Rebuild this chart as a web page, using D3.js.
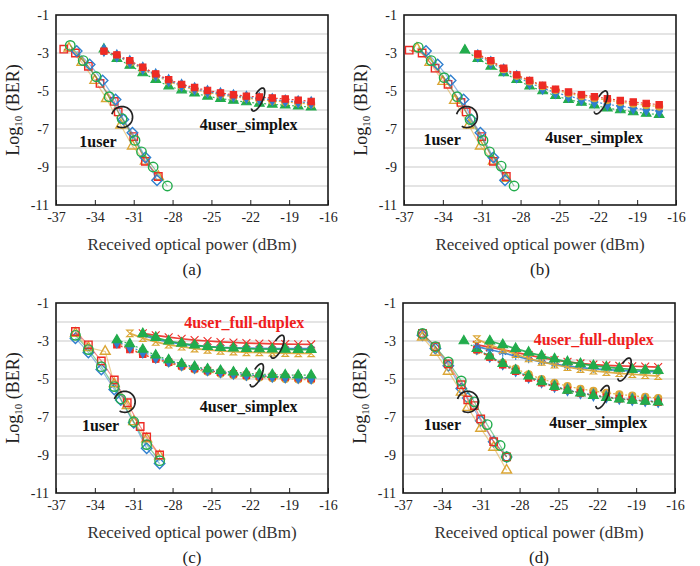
<!DOCTYPE html>
<html>
<head>
<meta charset="utf-8">
<script src="https://cdn.jsdelivr.net/npm/d3@7"></script>
<style>
  body { margin: 0; background: #fff; }
  svg text { font-family: "Liberation Serif", "Times New Roman", serif; }
</style>
</head>
<body>
<div id="chart"></div>
<script>
// ---- axes ----
var xTicks = [-37, -34, -31, -28, -25, -22, -19, -16];
var yTicks = [-11, -9, -7, -5, -3, -1];
var panelNames = ["(a)", "(b)", "(c)", "(d)"];

// ---- panel (a) ----
var a1RedX = [-36.4, -35.5, -34.5, -33.6, -32.5, -32.2, -31.0, -30.1, -29.1];
var a1RedY = [-2.8, -3.0, -3.7, -4.6, -5.55, -6.1, -7.4, -8.7, -9.5];
var a1BlueX = [-35.4, -34.4, -33.4, -32.4, -31.8, -31.1, -30.1, -29.2];
var a1BlueY = [-2.9, -3.6, -4.45, -5.45, -6.5, -7.2, -8.5, -9.7];
var a1OrangeX = [-36.0, -35.0, -34.0, -33.1, -32.0, -31.1, -30.1, -29.1];
var a1OrangeY = [-2.75, -3.5, -4.45, -5.4, -6.8, -7.9, -8.7, -9.5];
var a1GreenX = [-35.9, -34.9, -33.9, -32.9, -31.9, -30.9, -30.4, -29.5, -28.4];
var a1GreenY = [-2.6, -3.4, -4.25, -5.3, -6.45, -7.6, -8.2, -9.0, -10.0];

var aSimX = [-33.3, -32.3, -31.3, -30.3, -29.3, -28.3, -27.3, -26.3, -25.3, -24.3, -23.3, -22.3, -21.3, -20.3, -19.3, -18.3, -17.3];
var aSimRed = [-2.9, -3.1, -3.4, -3.75, -4.1, -4.4, -4.65, -4.82, -4.97, -5.1, -5.2, -5.27, -5.32, -5.37, -5.42, -5.48, -5.55];
var aSimBlue = [-2.85, -3.15, -3.45, -3.8, -4.15, -4.45, -4.7, -4.88, -5.03, -5.15, -5.25, -5.33, -5.4, -5.45, -5.52, -5.57, -5.62];
var aSimOrange = [-2.9, -3.15, -3.5, -3.85, -4.2, -4.5, -4.75, -4.93, -5.08, -5.2, -5.3, -5.38, -5.45, -5.52, -5.58, -5.63, -5.7];
var aSimGreen = [-2.8, -3.3, -3.65, -4.05, -4.4, -4.75, -4.95, -5.12, -5.28, -5.4, -5.5, -5.58, -5.65, -5.7, -5.75, -5.8, -5.85];

// ---- panel (b) ----
var b1RedX = [-36.6, -35.6, -34.6, -33.6, -32.6, -32.2, -31.0, -30.1, -29.1];
var b1RedY = [-2.85, -3.0, -3.8, -4.65, -5.6, -6.1, -7.4, -8.7, -9.5];
var b1BlueX = [-35.3, -34.4, -33.4, -32.4, -31.8, -31.1, -30.1, -29.2];
var b1BlueY = [-2.9, -3.6, -4.45, -5.45, -6.5, -7.2, -8.5, -9.7];
var b1OrangeX = [-36.0, -35.0, -34.0, -33.1, -32.0, -31.1, -30.1, -29.1];
var b1OrangeY = [-2.75, -3.5, -4.5, -5.5, -6.8, -7.9, -8.7, -9.6];
var b1GreenX = [-35.9, -34.9, -33.9, -32.9, -31.9, -30.9, -30.4, -29.5, -28.5];
var b1GreenY = [-2.7, -3.4, -4.3, -5.3, -6.5, -7.6, -8.2, -8.95, -10.0];

var bSimX = [-31.3, -30.3, -29.3, -28.3, -27.3, -26.3, -25.3, -24.3, -23.3, -22.3, -21.3, -20.3, -19.3, -18.3, -17.3];
var bSimGreenX = [-32.3, -31.3, -30.3, -29.3, -28.3, -27.3, -26.3, -25.3, -24.3, -23.3, -22.3, -21.3, -20.3, -19.3, -18.3, -17.3];
var bSimRed = [-3.05, -3.4, -3.8, -4.15, -4.45, -4.7, -4.9, -5.05, -5.2, -5.3, -5.4, -5.5, -5.58, -5.65, -5.72];
var bSimOrange = [-3.1, -3.45, -3.85, -4.2, -4.5, -4.75, -4.95, -5.12, -5.27, -5.38, -5.48, -5.58, -5.67, -5.75, -5.82];
var bSimBlue = [-3.15, -3.5, -3.9, -4.25, -4.58, -4.85, -5.08, -5.27, -5.43, -5.57, -5.7, -5.8, -5.9, -5.98, -6.05];
var bSimGreen = [-2.85, -3.3, -3.7, -4.05, -4.4, -4.75, -5.0, -5.25, -5.45, -5.6, -5.75, -5.9, -6.0, -6.1, -6.18, -6.25];

// ---- panel (c) ----
var c1RedX = [-35.5, -34.5, -33.5, -32.5, -31.5, -30.5, -30.0, -29.0];
var c1RedY = [-2.5, -3.2, -4.05, -5.05, -6.25, -7.5, -8.05, -9.0];
var c1BlueX = [-35.5, -34.5, -33.5, -32.5, -32.0, -31.0, -30.0, -29.0];
var c1BlueY = [-2.85, -3.6, -4.5, -5.55, -6.1, -7.3, -8.65, -9.45];
var c1OrangeX = [-35.5, -34.5, -33.2, -32.5, -31.5, -31.0, -30.0, -29.0];
var c1OrangeY = [-2.6, -3.35, -3.55, -5.25, -6.4, -7.25, -8.15, -9.05];
var c1GreenX = [-35.5, -34.5, -33.5, -32.5, -32.0, -31.0, -30.0, -29.0];
var c1GreenY = [-2.7, -3.45, -4.35, -5.4, -6.05, -7.25, -8.45, -9.3];

var cSimX = [-32.3, -31.3, -30.3, -29.3, -28.3, -27.3, -26.3, -25.3, -24.3, -23.3, -22.3, -21.3, -20.3, -19.3, -18.3, -17.3];
var cSimRed = [-3.2, -3.45, -3.7, -3.95, -4.12, -4.3, -4.45, -4.55, -4.65, -4.72, -4.8, -4.84, -4.87, -4.9, -4.93, -4.97];
var cSimBlue = [-3.05, -3.3, -3.58, -3.85, -4.05, -4.25, -4.4, -4.52, -4.62, -4.7, -4.77, -4.82, -4.86, -4.9, -4.92, -4.95];
var cSimOrange = [-3.1, -3.4, -3.68, -3.95, -4.15, -4.35, -4.5, -4.62, -4.72, -4.8, -4.87, -4.92, -4.96, -5.0, -5.02, -5.05];
var cSimGreen = [-2.95, -3.15, -3.45, -3.75, -4.0, -4.2, -4.35, -4.48, -4.56, -4.64, -4.7, -4.74, -4.77, -4.79, -4.8, -4.8];

var cDupX = [-31.3, -30.3, -29.3, -28.3, -27.3, -26.3, -25.3, -24.3, -23.3, -22.3, -21.3, -20.3, -19.3, -18.3, -17.3];
var cDupLateX = [-30.3, -29.3, -28.3, -27.3, -26.3, -25.3, -24.3, -23.3, -22.3, -21.3, -20.3, -19.3, -18.3, -17.3];
var cDupOrange = [-2.6, -2.85, -3.05, -3.2, -3.3, -3.4, -3.47, -3.52, -3.56, -3.6, -3.6, -3.62, -3.64, -3.65, -3.65];
var cDupGreen = [-2.62, -2.82, -3.0, -3.12, -3.22, -3.3, -3.35, -3.38, -3.4, -3.42, -3.43, -3.44, -3.45, -3.45];
var cDupRed = [-2.6, -2.7, -2.8, -2.88, -2.95, -3.0, -3.05, -3.08, -3.11, -3.13, -3.15, -3.16, -3.17, -3.18];
var cDupBlue = [-2.7, -2.9, -3.05, -3.16, -3.24, -3.3, -3.34, -3.36, -3.38, -3.39, -3.4, -3.4, -3.4, -3.4];

// ---- panel (d) ----
var d1RedX = [-35.5, -34.5, -33.5, -32.5, -32.0, -31.5, -31.0, -30.0, -29.0];
var d1RedY = [-2.6, -3.3, -4.2, -5.3, -6.1, -6.4, -7.1, -8.3, -9.1];
var d1BlueX = [-35.5, -34.5, -33.5, -32.5, -32.0, -31.0, -30.0, -29.0];
var d1BlueY = [-2.7, -3.4, -4.3, -5.5, -6.0, -7.2, -8.3, -9.1];
var d1OrangeX = [-35.5, -34.5, -33.5, -32.5, -32.0, -31.0, -30.0, -29.0];
var d1OrangeY = [-2.8, -3.6, -4.6, -5.7, -6.5, -7.6, -8.6, -9.8];
var d1GreenX = [-35.5, -34.5, -33.5, -32.5, -31.5, -30.5, -29.5, -29.0];
var d1GreenY = [-2.6, -3.3, -4.1, -5.1, -6.2, -7.4, -8.5, -9.1];

var dSimX = [-31.3, -30.3, -29.3, -28.3, -27.3, -26.3, -25.3, -24.3, -23.3, -22.3, -21.3, -20.3, -19.3, -18.3, -17.3];
var dSimGreenX = [-32.3, -31.3, -30.3, -29.3, -28.3, -27.3, -26.3, -25.3, -24.3, -23.3, -22.3, -21.3, -20.3, -19.3, -18.3, -17.3];
var dSimGreen = [-3.0, -3.4, -3.8, -4.2, -4.55, -4.85, -5.15, -5.4, -5.6, -5.75, -5.88, -5.98, -6.06, -6.13, -6.18, -6.22];
var dSimRed = [-3.45, -3.85, -4.25, -4.6, -4.95, -5.2, -5.42, -5.6, -5.74, -5.86, -5.96, -6.04, -6.1, -6.16, -6.22];
var dSimBlue = [-3.4, -3.8, -4.2, -4.55, -4.9, -5.15, -5.38, -5.57, -5.72, -5.84, -5.94, -6.02, -6.08, -6.13, -6.18];
var dSimOrange = [-3.5, -3.85, -4.15, -4.45, -4.75, -5.0, -5.2, -5.38, -5.52, -5.63, -5.73, -5.81, -5.88, -5.94, -6.0];

var dDupX = [-31.3, -30.3, -29.3, -28.3, -27.3, -26.3, -25.3, -24.3, -23.3, -22.3, -21.3, -20.3, -19.3, -18.3, -17.3];
var dDupGreenX = [-30.3, -29.3, -28.3, -27.3, -26.3, -25.3, -24.3, -23.3, -22.3, -21.3, -20.3, -19.3, -18.3, -17.3];
var dDupOrange = [-2.9, -3.2, -3.45, -3.7, -3.92, -4.1, -4.25, -4.38, -4.48, -4.57, -4.64, -4.7, -4.75, -4.8, -4.85];
var dDupGreen = [-3.0, -3.2, -3.4, -3.6, -3.78, -3.95, -4.1, -4.2, -4.3, -4.37, -4.44, -4.5, -4.54, -4.56];
var dDupRed = [-3.2, -3.32, -3.46, -3.6, -3.74, -3.88, -4.0, -4.1, -4.18, -4.24, -4.28, -4.31, -4.33, -4.35, -4.37];
var dDupBlue = [-3.3, -3.45, -3.62, -3.8, -3.96, -4.1, -4.22, -4.32, -4.4, -4.46, -4.51, -4.55, -4.58, -4.6, -4.62];

// colours
var red = "#ee2a24", blue = "#2f7fcf", orange = "#dba635", green = "#22ac4c";

// custom hourglass marker for the orange full-duplex curves
var symbolHourglass = {
  draw: function(ctx, size) {
    var r = Math.sqrt(size) / 2;
    ctx.moveTo(-r, -r); ctx.lineTo(r, -r);
    ctx.lineTo(-r, r); ctx.lineTo(r, r);
    ctx.closePath();
  }
};

function one(x, y, color, shape) { return {x: x, y: y, color: color, shape: shape, kind: "one"}; }
function sim(x, y, color, shape) { return {x: x, y: y, color: color, shape: shape, kind: "sim"}; }
function dup(x, y, color, shape) { return {x: x, y: y, color: color, shape: shape, kind: "dup"}; }

var panelSeries = [
  [
    sim(aSimX, aSimGreen, green, d3.symbolTriangle), sim(aSimX, aSimOrange, orange, d3.symbolCircle),
    sim(aSimX, aSimBlue, blue, d3.symbolDiamond), sim(aSimX, aSimRed, red, d3.symbolSquare),
    one(a1OrangeX, a1OrangeY, orange, d3.symbolTriangle2), one(a1RedX, a1RedY, red, d3.symbolSquare2),
    one(a1BlueX, a1BlueY, blue, d3.symbolDiamond2), one(a1GreenX, a1GreenY, green, d3.symbolCircle)
  ],
  [
    sim(bSimGreenX, bSimGreen, green, d3.symbolTriangle), sim(bSimX, bSimBlue, blue, d3.symbolDiamond),
    sim(bSimX, bSimOrange, orange, d3.symbolCircle), sim(bSimX, bSimRed, red, d3.symbolSquare),
    one(b1OrangeX, b1OrangeY, orange, d3.symbolTriangle2), one(b1RedX, b1RedY, red, d3.symbolSquare2),
    one(b1BlueX, b1BlueY, blue, d3.symbolDiamond2), one(b1GreenX, b1GreenY, green, d3.symbolCircle)
  ],
  [
    sim(cSimX, cSimOrange, orange, d3.symbolCircle), sim(cSimX, cSimRed, red, d3.symbolSquare),
    sim(cSimX, cSimBlue, blue, d3.symbolDiamond), sim(cSimX, cSimGreen, green, d3.symbolTriangle),
    dup(cDupLateX, cDupRed, red, d3.symbolX), dup(cDupLateX, cDupBlue, blue, d3.symbolAsterisk),
    dup(cDupX, cDupOrange, orange, symbolHourglass), dup(cDupLateX, cDupGreen, green, d3.symbolTriangle),
    one(c1BlueX, c1BlueY, blue, d3.symbolDiamond2), one(c1OrangeX, c1OrangeY, orange, d3.symbolTriangle2),
    one(c1RedX, c1RedY, red, d3.symbolSquare2), one(c1GreenX, c1GreenY, green, d3.symbolCircle)
  ],
  [
    sim(dSimX, dSimOrange, orange, d3.symbolCircle), sim(dSimX, dSimBlue, blue, d3.symbolDiamond),
    sim(dSimX, dSimRed, red, d3.symbolSquare), sim(dSimGreenX, dSimGreen, green, d3.symbolTriangle),
    dup(dDupX, dDupRed, red, d3.symbolX), dup(dDupX, dDupBlue, blue, d3.symbolAsterisk),
    dup(dDupX, dDupOrange, orange, symbolHourglass), dup(dDupGreenX, dDupGreen, green, d3.symbolTriangle),
    one(d1BlueX, d1BlueY, blue, d3.symbolDiamond2), one(d1OrangeX, d1OrangeY, orange, d3.symbolTriangle2),
    one(d1RedX, d1RedY, red, d3.symbolSquare2), one(d1GreenX, d1GreenY, green, d3.symbolCircle)
  ]
];

// annotation labels [text, x, y, colour] and brackets [cx, cy, rx, ry, rotate, start, end] in data units / px
var panelLabels = [
  [["1user", -35.2, -7.95, "#111"], ["4user_simplex", -25.9, -7.05, "#111"]],
  [["1user", -35.5, -7.85, "#111"], ["4user_simplex", -26.1, -7.75, "#111"]],
  [["1user", -35.0, -7.74, "#111"], ["4user_simplex", -25.9, -6.74, "#111"], ["4user_full-duplex", -27.1, -2.3, "#f0201c"]],
  [["1user", -35.4, -7.7, "#111"], ["4user_simplex", -25.7, -7.6, "#111"], ["4user_full-duplex", -26.9, -3.2, "#f0201c"]]
];
var panelBrackets = [
  [[-31.9, -6.37, 10.5, 10.5, 0, 195, 480], [-21.4, -5.45, 4.5, 12.5, 25, 200, 480]],
  [[-32.15, -6.37, 10.5, 10.5, 0, 195, 480], [-21.8, -5.6, 4.5, 12.5, 25, 200, 480]],
  [[-31.7, -6.2, 10.5, 10.5, 0, 195, 480], [-19.9, -3.3, 4.5, 12.5, 25, 200, 480], [-21.5, -4.8, 4.5, 12.5, 25, 200, 480]],
  [[-32.0, -6.2, 10.5, 10.5, 0, 195, 480], [-19.9, -4.5, 4.5, 12.5, 25, 200, 480], [-21.6, -5.95, 4.5, 12.5, 25, 200, 480]]
];

var panelLeft = [56, 404, 56, 403];
var panelTop = [15, 15, 303, 303];
var plotW = 272, plotH = 190;

var svg = d3.select("#chart").append("svg")
  .attr("width", 700)
  .attr("height", 566);

panelNames.forEach(function(name, p) {
  var g = svg.append("g")
    .attr("transform", "translate(" + panelLeft[p] + "," + panelTop[p] + ")");

  var x = d3.scaleLinear().domain([-37, -16]).range([0, plotW]);
  var y = d3.scaleLinear().domain([-11, -1]).range([plotH, 0]);

  // horizontal grid every 1
  g.append("g")
    .selectAll("line")
    .data(d3.range(-10, -1, 1))
    .enter()
    .append("line")
      .attr("x1", 0).attr("x2", plotW)
      .attr("y1", function(d) { return y(d); })
      .attr("y2", function(d) { return y(d); })
      .attr("stroke", "#c9c9c9")
      .attr("stroke-width", 1.2);

  // x axis (plain hyphen minus like the original)
  g.append("g")
    .attr("transform", "translate(0," + plotH + ")")
    .call(d3.axisBottom(x).tickValues(xTicks).tickSize(-5).tickPadding(7)
      .tickFormat(function(d) { return String(d); }))
    .call(function(a) { a.select(".domain").remove(); })
    .call(function(a) {
      a.selectAll("line").attr("stroke", "#222");
      a.selectAll("text").attr("font-size", 14).attr("fill", "#222")
        .attr("font-family", '"Liberation Serif", serif');
    });

  // y axis
  g.append("g")
    .call(d3.axisLeft(y).tickValues(yTicks).tickSize(0).tickPadding(7)
      .tickFormat(function(d) { return String(d); }))
    .call(function(a) { a.select(".domain").remove(); })
    .call(function(a) {
      a.selectAll("text").attr("font-size", 14).attr("fill", "#222")
        .attr("font-family", '"Liberation Serif", serif');
    });

  // frame
  g.append("rect")
    .attr("width", plotW).attr("height", plotH)
    .attr("fill", "none")
    .attr("stroke", "#1a1a1a")
    .attr("stroke-width", 1.6);

  // curves
  panelSeries[p].forEach(function(s) {
    var pts = s.x.map(function(v, i) { return [v, s.y[i]]; });
    var line = d3.line()
      .x(function(d) { return x(d[0]); })
      .y(function(d) { return y(d[1]); });
    g.append("path")
      .datum(pts)
      .attr("fill", "none")
      .attr("stroke", s.color)
      .attr("stroke-opacity", s.kind == "one" ? 0.55 : 0.9)
      .attr("stroke-width", s.kind == "dup" ? 1.7 : 1.2)
      .attr("stroke-dasharray", s.kind == "sim" ? "2,2" : null)
      .attr("d", line);

    var size = s.kind == "one" ? 70 : (s.kind == "dup" ? 42 : 40);
    var hollow = s.kind == "one" || (s.kind == "dup" && s.shape != d3.symbolTriangle);
    g.append("g")
      .selectAll("path")
      .data(pts)
      .enter()
      .append("path")
        .attr("transform", function(d) { return "translate(" + x(d[0]) + "," + y(d[1]) + ")"; })
        .attr("d", d3.symbol().type(s.shape).size(size))
        .attr("fill", hollow ? "none" : s.color)
        .attr("stroke", s.color)
        .attr("stroke-width", s.kind == "one" ? 1.4 : 1.1);
  });

  // brackets
  panelBrackets[p].forEach(function(b) {
    var pts = d3.range(b[5], b[6] + 1, 4).map(function(a) {
      var t = a * Math.PI / 180;
      return [b[2] * Math.cos(t), b[3] * Math.sin(t)];
    });
    g.append("path")
      .attr("transform", "translate(" + x(b[0]) + "," + y(b[1]) + ") rotate(" + b[4] + ")")
      .attr("d", d3.line()(pts))
      .attr("fill", "none")
      .attr("stroke", "#222")
      .attr("stroke-width", 1.7);
  });

  // labels
  panelLabels[p].forEach(function(l) {
    g.append("text")
      .attr("x", x(l[1]))
      .attr("y", y(l[2]))
      .attr("font-size", 16)
      .attr("font-weight", "bold")
      .attr("fill", l[3])
      .text(l[0]);
  });

  // axis titles
  var yTitle = g.append("text")
    .attr("transform", "translate(-37," + (plotH / 2) + ") rotate(-90)")
    .attr("text-anchor", "middle")
    .attr("font-size", 18)
    .attr("fill", "#222");
  yTitle.append("tspan").text("Log");
  yTitle.append("tspan").attr("font-size", 11).attr("dy", 3).text("10");
  yTitle.append("tspan").attr("dy", -3).text(" (BER)");

  g.append("text")
    .attr("x", plotW / 2)
    .attr("y", plotH + 45)
    .attr("text-anchor", "middle")
    .attr("font-size", 17)
    .attr("fill", "#333")
    .text("Received optical power (dBm)");

  g.append("text")
    .attr("x", plotW / 2)
    .attr("y", plotH + 70)
    .attr("text-anchor", "middle")
    .attr("font-size", 17)
    .attr("fill", "#222")
    .text(name);
});
</script>
</body>
</html>
